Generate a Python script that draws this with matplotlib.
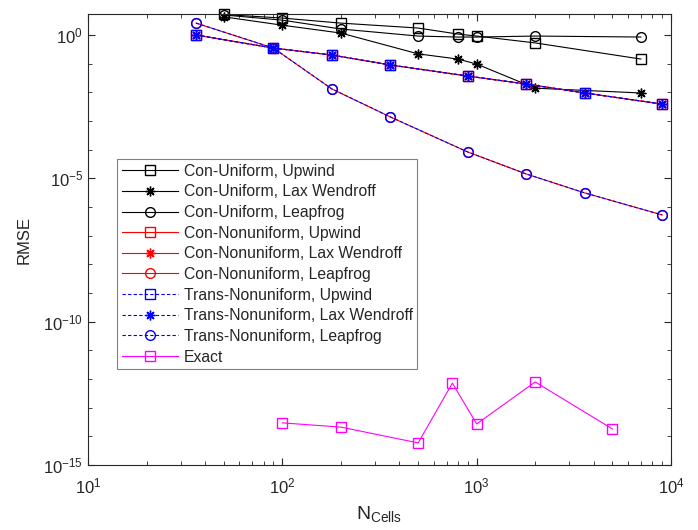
import matplotlib.pyplot as plt
import numpy as np
from matplotlib.ticker import FixedLocator, NullFormatter, LogLocator

plt.rcParams['font.family'] = ['Liberation Sans', 'DejaVu Sans']
plt.rcParams['mathtext.fontset'] = 'custom'
plt.rcParams['mathtext.rm'] = 'Liberation Sans'
plt.rcParams['mathtext.it'] = 'Liberation Sans:italic'

# uniform grid runs
n_uni = [50, 100, 200, 500, 800, 1000, 2000, 7000]
uni_upwind = [5.2, 3.9, 2.6, 1.75, 1.08, 0.92, 0.53, 0.145]
uni_laxw = [4.3, 2.2, 1.17, 0.22, 0.145, 0.097, 0.014, 0.0095]
uni_leap = [5.0, 3.3, 1.62, 0.92, 0.85, 0.85, 0.92, 0.85]

# nonuniform grid runs (conservative and transformed give the same errors)
n_non = [36, 90, 180, 360, 900, 1800, 3600, 9000]
con_upwind = [1.0, 0.35, 0.2, 0.09, 0.037, 0.0195, 0.0095, 0.0039]
con_laxw = [1.0, 0.35, 0.2, 0.09, 0.037, 0.0195, 0.0095, 0.0039]
con_leap = [2.6, 0.35, 0.0131, 1.38e-3, 8.3e-5, 1.42e-5, 3.1e-6, 5.3e-7]
trans_upwind = [1.0, 0.35, 0.2, 0.09, 0.037, 0.0195, 0.0095, 0.0039]
trans_laxw = [1.0, 0.35, 0.2, 0.09, 0.037, 0.0195, 0.0095, 0.0039]
trans_leap = [2.6, 0.35, 0.0131, 1.38e-3, 8.3e-5, 1.42e-5, 3.1e-6, 5.3e-7]

# exact solution check
n_exact = [100, 200, 500, 750, 1000, 2000, 5000]
exact = [2.95e-14, 2.1e-14, 5.9e-15, 7.2e-13, 2.7e-14, 7.9e-13, 1.8e-14]

star = (8, 2, 0)
fig = plt.figure(figsize=(6.98, 5.30), dpi=100)
ax = fig.add_axes([88/698, 1 - 465/530, 583/698, 451/530])

ms = 7
kw = dict(lw=0.8, ms=ms, clip_on=False)
ax.plot(n_uni, uni_upwind, '-', color='k', marker='s', mfc='none', label='Con-Uniform, Upwind', **kw)
ax.plot(n_uni, uni_laxw, '-', color='k', marker=star, label='Con-Uniform, Lax Wendroff', **kw)
ax.plot(n_uni, uni_leap, '-', color='k', marker='o', mfc='none', label='Con-Uniform, Leapfrog', **kw)
ax.plot(n_non, con_upwind, '-', color='r', marker='s', mfc='none', label='Con-Nonuniform, Upwind', **kw)
ax.plot(n_non, con_laxw, '-', color='r', marker=star, label='Con-Nonuniform, Lax Wendroff', **kw)
ax.plot(n_non, con_leap, '-', color='r', marker='o', mfc='none', label='Con-Nonuniform, Leapfrog', **kw)
ax.plot(n_non, trans_upwind, '--', dashes=(3, 2), color='b', marker='s', mfc='none', label='Trans-Nonuniform, Upwind', **kw)
ax.plot(n_non, trans_laxw, '--', dashes=(3, 2), color='b', marker=star, label='Trans-Nonuniform, Lax Wendroff', **kw)
ax.plot(n_non, trans_leap, '--', dashes=(3, 2), color='b', marker='o', mfc='none', label='Trans-Nonuniform, Leapfrog', **kw)
ax.plot(n_exact, exact, '-', color='#ff00ff', marker='s', mfc='none', label='Exact', **kw)

ax.set_xscale('log')
ax.set_yscale('log')
ax.set_xlim(10, 1e4)
ax.set_ylim(1e-15, 10**0.733)

ax.yaxis.set_major_locator(FixedLocator([1e-15, 1e-10, 1e-5, 1]))
ax.yaxis.set_minor_locator(FixedLocator([10.0**k for k in range(-15, 1)]))
ax.yaxis.set_minor_formatter(NullFormatter())
ax.xaxis.set_minor_locator(LogLocator(base=10, subs=np.arange(2, 10)))
ax.xaxis.set_minor_formatter(NullFormatter())

dark = '#262626'
for s in ax.spines.values():
    s.set_color(dark)
    s.set_linewidth(0.8)
ax.tick_params(which='both', direction='in', top=True, right=True, colors=dark, labelsize=12)
ax.tick_params(which='major', length=5)
ax.tick_params(which='minor', length=3)
ax.tick_params(axis='x', pad=8)

ax.set_xlabel('N$_{\\mathrm{Cells}}$', fontsize=14, color=dark, labelpad=6)
ax.set_ylabel('RMSE', fontsize=12, color=dark, labelpad=8)

leg = ax.legend(loc='upper left', bbox_to_anchor=(29/583, 1 - 145/451), borderaxespad=0,
                fontsize=11.3, handlelength=3.6, handletextpad=0.35, labelspacing=0.36,
                fancybox=False, framealpha=1, edgecolor='#808080', borderpad=0.3)
leg.get_frame().set_linewidth(0.8)
for t in leg.get_texts():
    t.set_color(dark)

fig.savefig('out.png', dpi=100)
